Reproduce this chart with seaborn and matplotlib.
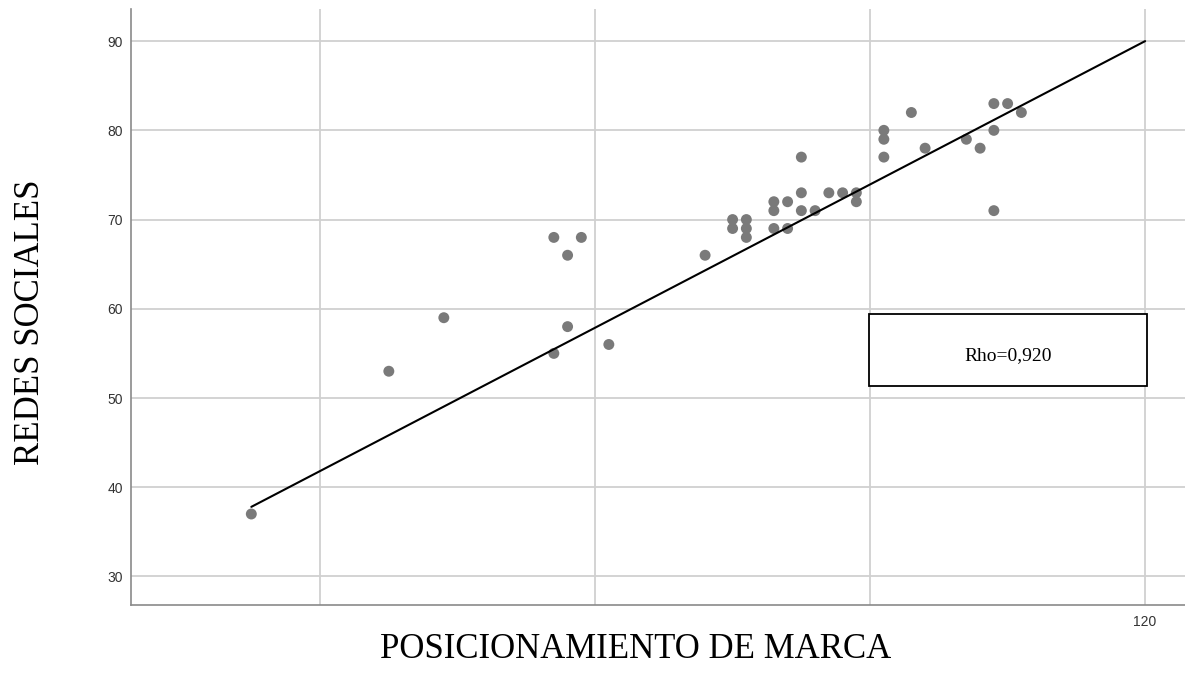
import numpy as np
import pandas as pd
import matplotlib
matplotlib.use("Agg")
import matplotlib.pyplot as plt
from matplotlib.patches import Rectangle
import seaborn as sns

# Valores
posicionamiento = [55, 65, 69, 77, 77, 78, 78, 79, 81, 88,
                   90, 90, 91, 91, 91, 93, 93, 93, 94, 94,
                   95, 95, 95, 96, 97, 98, 99, 99, 101, 101,
                   101, 103, 104, 107, 108, 109, 109, 109, 110, 111]
redes = [37, 53, 59, 68, 55, 66, 58, 68, 56, 66,
         70, 69, 70, 69, 68, 72, 71, 69, 72, 69,
         77, 73, 71, 71, 73, 73, 73, 72, 80, 79,
         77, 82, 78, 79, 78, 83, 80, 71, 83, 82]
# recta de ajuste tal como aparece en el gráfico (extremos)
linea_x = [55, 120]
linea_y = [37.8, 90.0]
x_ticks = [60, 80, 100, 120]
x_tick_labels = ["", "", "", "120"]
y_ticks = [30, 40, 50, 60, 70, 80, 90]
rho_text = "Rho=0,920"

df = pd.DataFrame({"Posicionamiento": posicionamiento, "Redes": redes})
df_linea = pd.DataFrame({"x": linea_x, "y": linea_y})

sns.set_theme(style="whitegrid")
plt.rcParams["font.family"] = ["Liberation Sans", "DejaVu Sans"]

fig = plt.figure(figsize=(11.85, 6.75), dpi=100)
ax = fig.add_axes([131 / 1185, 70 / 675, 1054 / 1185, 596 / 675])

sns.scatterplot(data=df, x="Posicionamiento", y="Redes", ax=ax,
                color="#7a7a7a", s=62, edgecolor="none", zorder=3)
sns.lineplot(data=df_linea, x="x", y="y", ax=ax, color="black",
             linewidth=1.5, zorder=4)

ax.set_xlim(46.25, 122.9)
ax.set_ylim(26.8, 93.6)
ax.set_xticks(x_ticks)
ax.set_xticklabels(x_tick_labels)
ax.set_yticks(y_ticks)
ax.tick_params(axis="both", length=0, labelsize=10, colors="#333333")
ax.tick_params(axis="y", pad=6)
ax.tick_params(axis="x", pad=7)
ax.grid(True, color="#d0d0d0", linewidth=1.3)

for side in ["top", "right"]:
    ax.spines[side].set_visible(False)
for side in ["left", "bottom"]:
    ax.spines[side].set_visible(True)
    ax.spines[side].set_color("#8a8a8a")
    ax.spines[side].set_linewidth(1.2)

ax.set_xlabel("POSICIONAMIENTO DE MARCA", fontsize=25,
              family=["Liberation Serif", "DejaVu Serif"], color="black")
ax.xaxis.set_label_coords(0.479, -0.0755)
ax.xaxis.label.set_va("center")

ax.set_ylabel("REDES SOCIALES", fontsize=25,
              family=["Liberation Serif", "DejaVu Serif"], color="black")
ax.yaxis.set_label_coords(-0.095, 0.475)
ax.yaxis.label.set_va("center")

# cuadro con el coeficiente
ax.add_patch(Rectangle((0.700, 0.367), 0.264, 0.121, transform=ax.transAxes,
                       facecolor="white", edgecolor="black", linewidth=1.3,
                       zorder=5, clip_on=False))
ax.text(0.832, 0.418, rho_text, transform=ax.transAxes, ha="center", va="center",
        fontsize=14, color="black", family=["Liberation Serif", "DejaVu Serif"],
        zorder=6)

fig.savefig("out.png", dpi=100)
